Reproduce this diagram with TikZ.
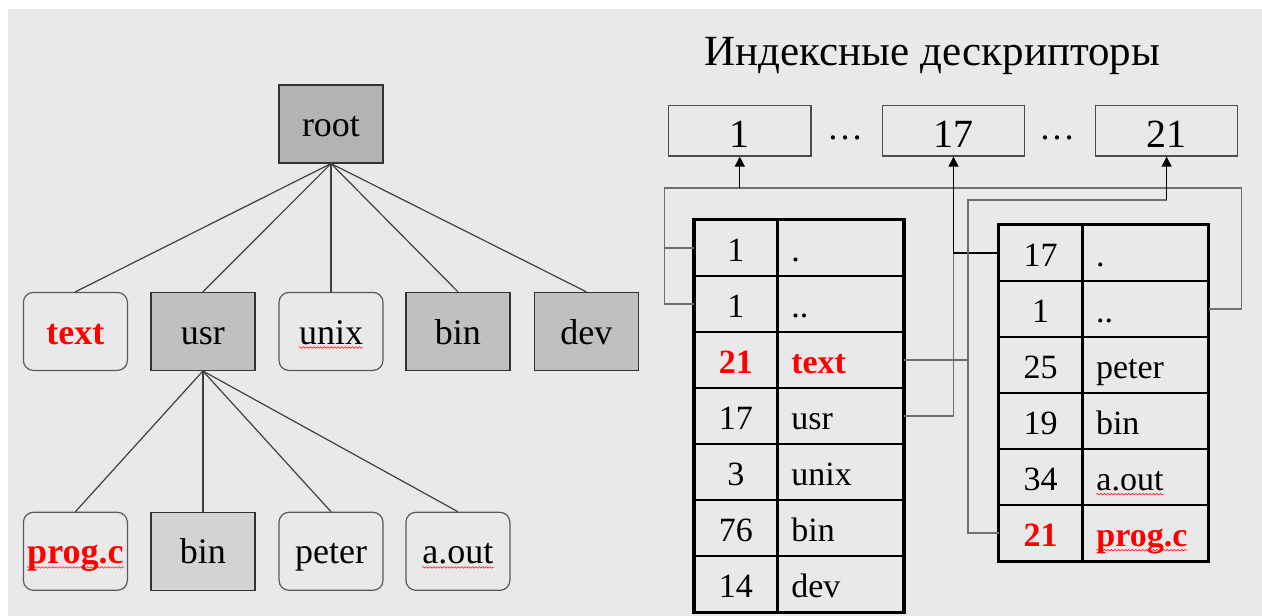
\documentclass[tikz,border=0pt]{standalone}
\usepackage{fontspec}
\newfontfamily\tnr{Liberation Serif}
\usetikzlibrary{arrows.meta,decorations.pathmorphing}

\definecolor{paper}{HTML}{E9E9E9}
\definecolor{dirfill}{HTML}{C0C0C0}
\definecolor{rootfill}{HTML}{B3B3B3}
\definecolor{subfill}{HTML}{D3D3D3}
\definecolor{wire}{HTML}{707070}

\newcommand{\hl}[1]{\textcolor{red}{\bfseries #1}}
\newcommand{\wavy}[1]{\tikz[baseline=(w.base)]{%
  \node[inner sep=0pt,minimum size=0pt,text width=,text height=,text depth=,anchor=center,sharp corners] (w) {#1};
  \draw[red,line width=0.5pt,sharp corners,decorate,decoration={snake,amplitude=0.8pt,segment length=3.5pt}]
    ([yshift=-3.5pt]w.base west) -- ([yshift=-3.5pt]w.base east);}}

\begin{document}
\begin{tikzpicture}[
x=1pt,y=-1pt,
dir/.style={draw=black!80,line width=1.2pt,fill=dirfill,minimum width=104pt,minimum height=78pt,inner sep=0pt,text height=28pt,text depth=2.8pt,font=\tnr\fontsize{36}{40}\selectfont},
file/.style={dir,draw=black!65,fill=paper,rounded corners=10pt},
tedge/.style={draw=black!75,line width=1.2pt},
inode/.style={draw=black!70,line width=1.2pt,minimum width=142.5pt,minimum height=50.7pt,inner sep=0pt,text height=36pt,text depth=2.8pt,font=\tnr\fontsize{40}{44}\selectfont},
dots/.style={anchor=base,font=\tnr\fontsize{36}{40}\selectfont},
title/.style={anchor=base,font=\tnr\fontsize{43}{47}\selectfont},
ncell/.style={draw,line width=1.5pt,minimum width=82pt,minimum height=56pt,inner sep=0pt,text height=30pt,text depth=2.6pt,font=\tnr\fontsize{34}{38}\selectfont},
tcell/.style={ncell,anchor=west,minimum width=125pt,text width=99pt,align=left,inner xsep=13pt},
frame/.style={line width=3.2pt},
link/.style={draw=wire,line width=1.3pt},
ptr/.style={draw=black,line width=1.3pt,-{Triangle[length=10pt,width=10pt]}}
]
\path[use as bounding box,fill=white] (0,0) rectangle (1262,616);
\fill[paper] (8,9) rectangle (1262,616);
% directory tree
\node[dir,fill=rootfill] (root) at (331,124) {root};
\node[file] (text) at (75.4,331.4) {\hl{text}};
\node[dir] (usr) at (202.9,331.4) {usr};
\node[file] (unix) at (331,331.4) {\wavy{unix}};
\node[dir] (bin) at (457.9,331.4) {bin};
\node[dir] (dev) at (586.3,331.4) {dev};
\node[file] (progc) at (75.4,551.3) {\hl{\wavy{prog.c}}};
\node[dir,fill=subfill] (ubin) at (202.9,551.3) {bin};
\node[file] (peter) at (331,551.3) {peter};
\node[file] (aout) at (457.9,551.3) {\wavy{a.out}};
\draw[tedge] (root.south) -- (text.north);
\draw[tedge] (root.south) -- (usr.north);
\draw[tedge] (root.south) -- (unix.north);
\draw[tedge] (root.south) -- (bin.north);
\draw[tedge] (root.south) -- (dev.north);
\draw[tedge] (usr.south) -- (progc.north);
\draw[tedge] (usr.south) -- (ubin.north);
\draw[tedge] (usr.south) -- (peter.north);
\draw[tedge] (usr.south) -- (aout.north);
% inodes
\node[title] (head) at (932.5,65.7) {Индексные дескрипторы};
\node[inode] (ino1) at (739.8,130.7) {1};
\node[inode] (ino17) at (953.5,130.7) {17};
\node[inode] (ino21) at (1166.6,130.7) {21};
\node[dots] (dotsa) at (845,139) {\ldots};
\node[dots] (dotsb) at (1057,139) {\ldots};
% directory tables
\foreach \i/\n/\s in {1/1/{.},2/1/{..},3/{\hl{21}}/{\hl{text}},4/17/usr,5/3/unix,6/76/bin,7/14/dev}{
  \node[ncell] (Ln\i) at (735.8,{192+56*\i}) {\n};
  \node[tcell] (Lt\i) at (Ln\i.east) {\s};
}
\foreach \i/\n/\s in {1/17/{.},2/1/{..},3/25/peter,4/19/bin,5/34/{\wavy{a.out}},6/{\hl{21}}/{\hl{\wavy{prog.c}}}}{
  \node[ncell] (Rn\i) at (1040.5,{197+56*\i}) {\n};
  \node[tcell] (Rt\i) at (Rn\i.east) {\s};
}
\draw[frame] (Ln1.north west) rectangle (Lt7.south east);
\draw[frame] (Rn1.north west) rectangle (Rt6.south east);
% links to inodes
\coordinate (bus1) at (664.6,188);
\coordinate (bus21) at (967.9,200);
\draw[link] (Rt2.east) -- ++(32.6,0) |- (bus1) |- (Ln2.west);
\draw[link] (Ln1.west) -- (bus1 |- Ln1.west);
\draw[ptr] (ino1.south |- bus1) -- (ino1.south);
\draw[link] (Lt4.east) -| (ino17.south |- Rn1.west);
\draw[ptr] (Rn1.west) -| (ino17.south);
\draw[link] (Rn6.west) -| (bus21) -- (ino21.south |- bus21);
\draw[link] (Lt3.east) -- (bus21 |- Lt3.east);
\draw[ptr] (ino21.south |- bus21) -- (ino21.south);
\end{tikzpicture}
\end{document}
